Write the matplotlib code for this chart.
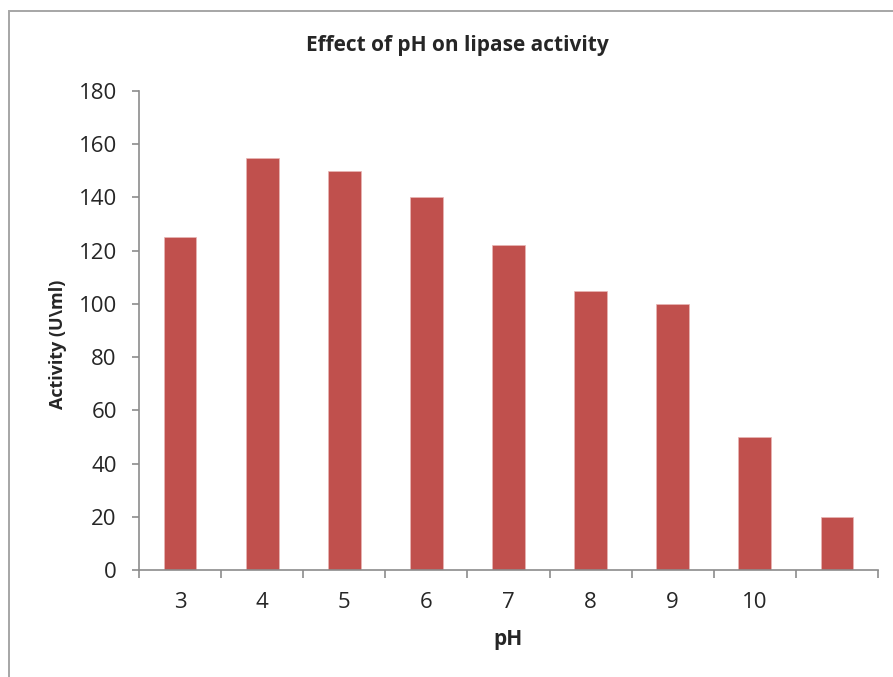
import matplotlib
matplotlib.use("Agg")
import matplotlib.pyplot as plt
from matplotlib.patches import Rectangle
import numpy as np

plt.rcParams['font.family'] = ['Open Sans', 'DejaVu Sans']

# lipase activity per pH step (last bar has no category label)
ph_labels = ['3', '4', '5', '6', '7', '8', '9', '10', '']
activity = [125, 155, 150, 140, 122, 105, 100, 50, 20]
y_ticks = [0, 20, 40, 60, 80, 100, 120, 140, 160, 180]

W, H = 893, 677
fig = plt.figure(figsize=(W / 100, H / 100), dpi=100)
fig.patch.set_facecolor('white')

# chart area border, runs off the right and bottom edges
fig.patches.append(Rectangle((9 / W, -0.1), 1.2, (H - 10.5) / H + 0.1,
                             transform=fig.transFigure, fill=False,
                             edgecolor='#a6a6a6', linewidth=1.4))

ax = fig.add_axes([139 / W, 107 / H, (878 - 139) / W, (570 - 91) / H])
x = np.arange(len(activity))
ax.bar(x, activity, width=0.4, color='#C0504D', edgecolor='#e8b6b5', linewidth=0.5)

ax.set_xlim(-0.5, len(activity) - 0.5)
ax.set_ylim(0, 180)
ax.set_yticks(y_ticks)
ax.set_yticklabels([str(v) for v in y_ticks])

# ticks sit between categories, labels centred under bars
ax.set_xticks(np.arange(len(activity) + 1) - 0.5)
ax.set_xticklabels([])
ax.set_xticks(x, minor=True)
ax.set_xticklabels(ph_labels, minor=True)

for s in ['top', 'right']:
    ax.spines[s].set_visible(False)
for s in ['left', 'bottom']:
    ax.spines[s].set_color('#8c8c8c')
    ax.spines[s].set_linewidth(1.2)

ax.tick_params(axis='y', direction='out', length=5, width=1.2, color='#8c8c8c',
               labelsize=16, labelcolor='#262626', pad=11)
ax.tick_params(axis='x', which='major', direction='out', length=6, width=1.2, color='#8c8c8c')
ax.tick_params(axis='x', which='minor', length=0, labelsize=16, labelcolor='#262626', pad=16)

# axis titles and chart title placed in pixel terms
fig.text(508 / W, 1 - 640 / H, 'pH', ha='center', va='center',
         fontsize=15, fontweight='bold', color='#262626')
fig.text(58 / W, 1 - 344 / H, 'Activity (U\\ml)', ha='center', va='center', rotation=90,
         fontsize=13, fontweight='bold', color='#262626')
fig.text(457 / W, 1 - 45 / H, 'Effect of pH on lipase activity', ha='center', va='center',
         fontsize=15, fontweight='bold', color='#262626')

fig.savefig('out.png', dpi=100, facecolor='white')
